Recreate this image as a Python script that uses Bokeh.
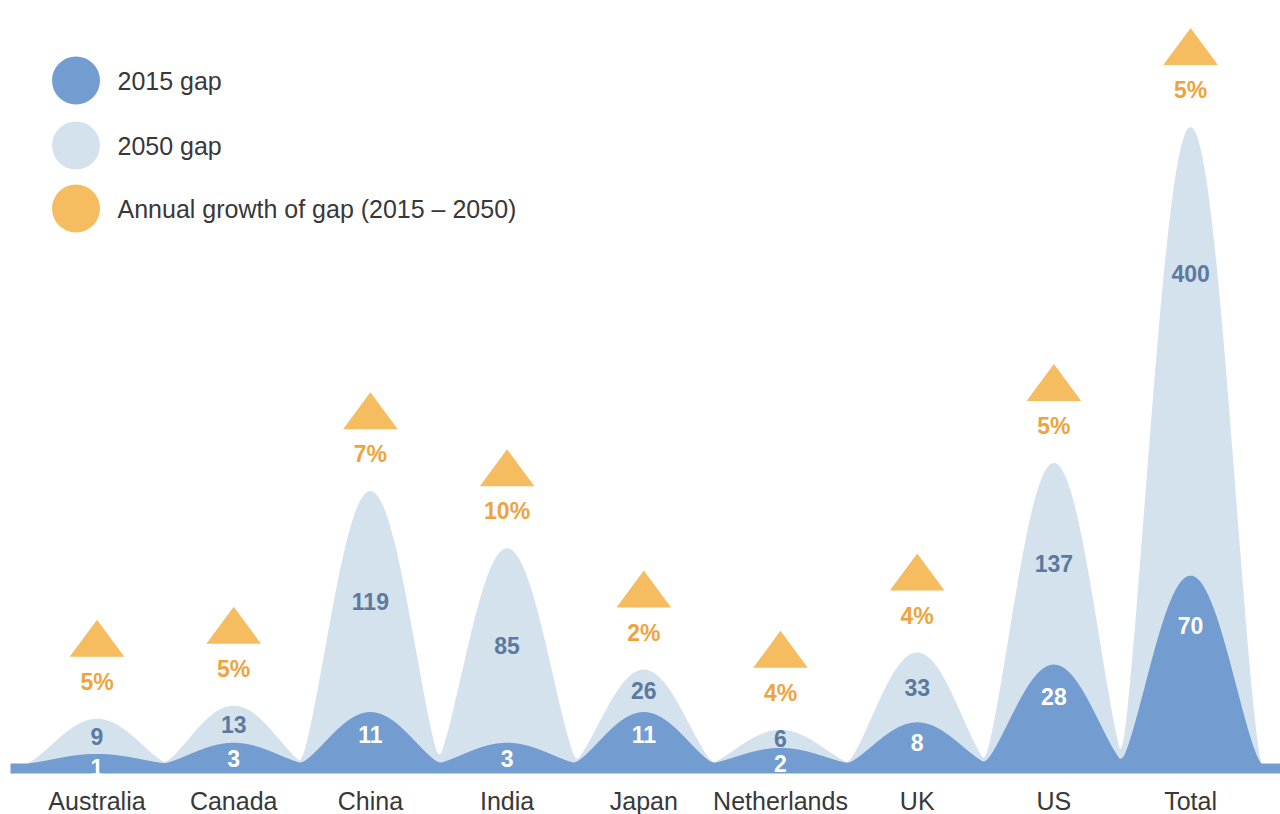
import numpy as np
from bokeh.plotting import figure
from bokeh.models import Range1d
from bokeh.embed import file_html
from bokeh.resources import INLINE
from bokeh.core.properties import value

# ---------------- data ----------------
countries = ["Australia", "Canada", "China", "India", "Japan",
             "Netherlands", "UK", "US", "Total"]
gap_2015 = [1, 3, 11, 3, 11, 2, 8, 28, 70]
gap_2050 = [9, 13, 119, 85, 26, 6, 33, 137, 400]
growth_pct = [5, 5, 7, 10, 2, 4, 4, 5, 5]
legend_labels = ["2015 gap", "2050 gap", "Annual growth of gap (2015 \u2013 2050)"]

# ---------------- style ----------------
DARK = "#739dd0"
LIGHT = "#d4e2ee"
ORANGE = "#f5bd60"
ORANGE_TXT = "#eea43e"
SLATE = "#5b7a9e"
TXT = "#383838"
FONT = value("Liberation Sans")

W, H = 1280, 814
STEP = 136.7          # px per category
FIRST = 96.5          # px of first category
BASE = 763            # px (from top) of the curve baseline
EXP, AMP = 0.7, 9.6   # display transform of the values (px)
HALF_W = 0.52         # bump half-width in categories
SHAPE_K = 1.4

x_lo, x_hi = -FIRST / STEP, (W - FIRST) / STEP
y_lo, y_hi = -(H - BASE), BASE


def px_x(px):
    return (px - FIRST) / STEP


def px_y(px):
    return BASE - px


p = figure(width=W, height=H, output_backend="svg", toolbar_location=None,
           x_range=Range1d(x_lo, x_hi), y_range=Range1d(y_lo, y_hi),
           min_border=0, x_axis_location=None, y_axis_location=None,
           background_fill_color="white", border_fill_color="white")
p.outline_line_color = None
p.grid.visible = False

idx = np.arange(len(countries), dtype=float)
h15 = AMP * np.array(gap_2015, dtype=float) ** EXP
h50 = AMP * np.array(gap_2050, dtype=float) ** EXP


def curve(xs, heights):
    y = np.zeros_like(xs)
    for c, h in zip(idx, heights):
        t = np.abs(xs - c) / HALF_W
        b = np.where(t < 1, np.cos(np.pi / 2 * np.clip(t, 0, 1)), 0.0)
        y += h * b ** SHAPE_K
    return y


xs = np.linspace(px_x(10), x_hi, 3000)
y50 = curve(xs, h50)
y15 = curve(xs, h15)

p.varea(x=xs, y1=np.zeros_like(xs), y2=y50, fill_color=LIGHT)
p.varea(x=xs, y1=np.full_like(xs, -10.0), y2=y15, fill_color=DARK)

# value labels
lab50_y = np.maximum((h50 + h15) / 2, h50 - 146)
p.text(x=idx, y=lab50_y, text=[str(v) for v in gap_2050], text_font=FONT,
       text_font_size="23px", text_font_style="bold", text_color=SLATE,
       text_align="center", text_baseline="middle")
lab15_y = 0.8 * h15 - 12
p.text(x=idx, y=lab15_y, text=[str(v) for v in gap_2015], text_font=FONT,
       text_font_size="23px", text_font_style="bold", text_color="white",
       text_align="center", text_baseline="middle")

# growth triangles and labels
tri_xs = [[c - 0.2, c, c + 0.2] for c in idx]
tri_ys = [[h + 62, h + 99, h + 62] for h in h50]
p.patches(xs=tri_xs, ys=tri_ys, fill_color=ORANGE, line_color=None)
p.text(x=idx, y=h50 + 37, text=[f"{g}%" for g in growth_pct], text_font=FONT,
       text_font_size="23px", text_font_style="bold", text_color=ORANGE_TXT,
       text_align="center", text_baseline="middle")

# category labels
p.text(x=idx, y=np.full(len(idx), px_y(800)), text=countries, text_font=FONT,
       text_font_size="25px", text_color=TXT, text_align="center",
       text_baseline="middle")

# legend
leg_y = [px_y(80), px_y(145), px_y(208)]
p.scatter(x=[px_x(75.5)] * 3, y=leg_y, size=48, marker="circle",
          fill_color=[DARK, LIGHT, ORANGE], line_color=None)
p.text(x=[px_x(117)] * 3, y=leg_y, text=legend_labels, text_font=FONT,
       text_font_size="25px", text_color=TXT, text_align="left",
       text_baseline="middle")

open("out.html", "w").write(file_html(p, INLINE))
